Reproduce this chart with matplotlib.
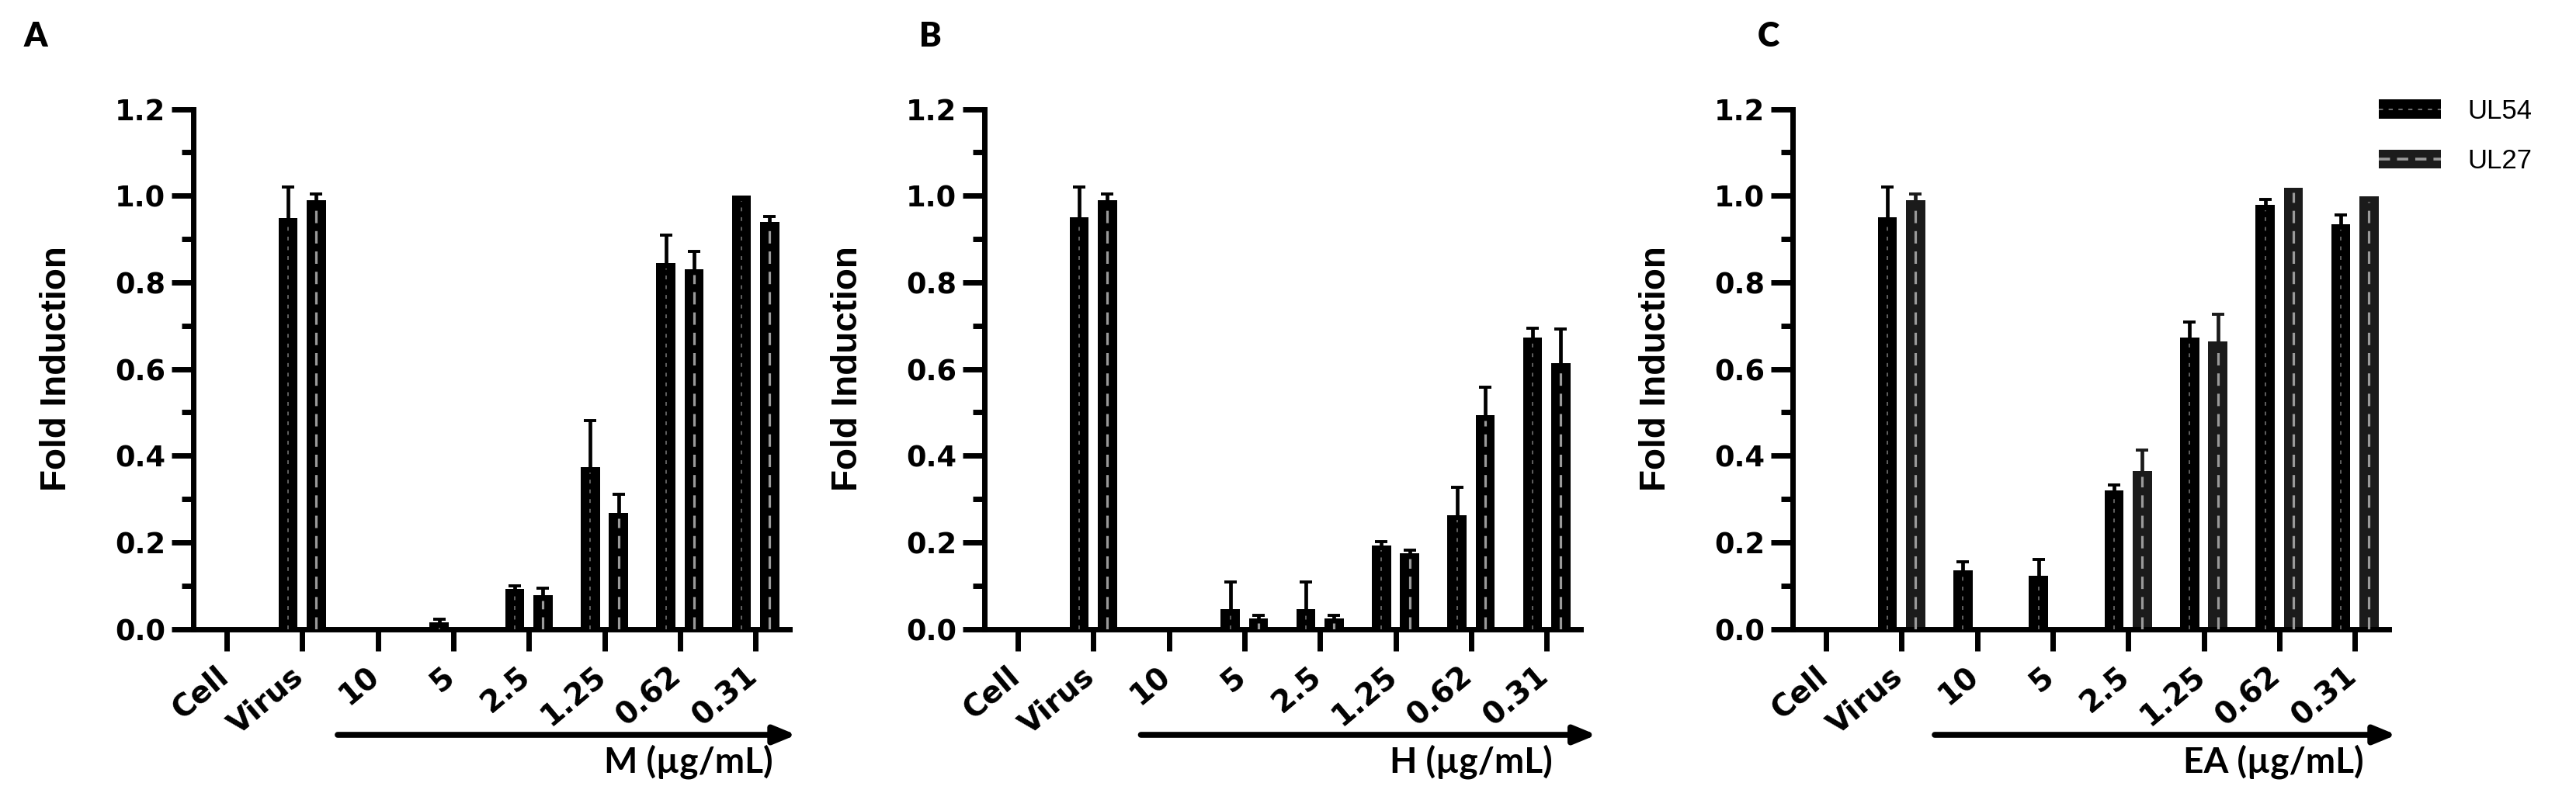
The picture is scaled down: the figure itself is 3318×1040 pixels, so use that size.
import numpy as np
import matplotlib
matplotlib.use("Agg")
import matplotlib.pyplot as plt
from matplotlib.patches import Patch
from matplotlib.lines import Line2D
from matplotlib.ticker import MultipleLocator, FormatStrFormatter
import matplotlib.transforms as mtrans

# ---------------- data ----------------
categories = ["Cell", "Virus", "10", "5", "2.5", "1.25", "0.62", "0.31"]
series_names = ["UL54", "UL27"]
panel_letters = ["A", "B", "C"]
x_titles = ["M (µg/mL)", "H (µg/mL)", "EA (µg/mL)"]

a_ul54 = [0.0, 0.948, 0.0, 0.015, 0.093, 0.373, 0.844, 1.000]
a_ul54_err = [0.0, 0.073, 0.0, 0.007, 0.007, 0.108, 0.065, 0.0]
a_ul27 = [0.0, 0.990, 0.0, 0.0, 0.078, 0.268, 0.830, 0.939]
a_ul27_err = [0.0, 0.014, 0.0, 0.0, 0.016, 0.043, 0.042, 0.013]

b_ul54 = [0.0, 0.950, 0.0, 0.045, 0.045, 0.193, 0.263, 0.672]
b_ul54_err = [0.0, 0.071, 0.0, 0.064, 0.064, 0.008, 0.064, 0.023]
b_ul27 = [0.0, 0.989, 0.0, 0.025, 0.025, 0.174, 0.493, 0.613]
b_ul27_err = [0.0, 0.015, 0.0, 0.006, 0.006, 0.007, 0.065, 0.080]

c_ul54 = [0.0, 0.950, 0.135, 0.123, 0.319, 0.672, 0.979, 0.934]
c_ul54_err = [0.0, 0.071, 0.020, 0.038, 0.014, 0.037, 0.013, 0.021]
c_ul27 = [0.0, 0.989, 0.0, 0.0, 0.364, 0.663, 1.019, 0.999]
c_ul27_err = [0.0, 0.015, 0.0, 0.0, 0.049, 0.063, 0.0, 0.0]

panels = [
    (a_ul54, a_ul54_err, a_ul27, a_ul27_err),
    (b_ul54, b_ul54_err, b_ul27, b_ul27_err),
    (c_ul54, c_ul54_err, c_ul27, c_ul27_err),
]

# ---------------- style / layout ----------------
W, H = 3318, 1040
DPI = 100
ax_left_px = [249, 1268, 2309]
ax_w_px = 768
y0_px, y12_px = 810.5, 140.6
XLIM = (-0.44, 7.45)
ul27_colors = ["#000000", "#000000", "#1b1b1b"]
arrow_span = [(1.47, 7.54), (1.63, 7.66), (1.44, 7.55)]
xtitle_right = [7.235, 7.08, 7.12]
letter_x_px = [31, 1184, 2264]

BAR_W = 0.255
OFF = 0.187
TICK_FONT = dict(family="DejaVu Sans", weight="bold", size=26.5)
XTICK_FONT = dict(family="DejaVu Sans", weight="bold", size=28)

fig = plt.figure(figsize=(W / DPI, H / DPI), dpi=DPI)

for i, (u54, e54, u27, e27) in enumerate(panels):
    left = ax_left_px[i] / W
    bottom = 1 - y0_px / H
    height = (y0_px - y12_px) / H
    ax = fig.add_axes([left, bottom, ax_w_px / W, height])
    x = np.arange(len(categories))
    u54 = np.array(u54); e54 = np.array(e54)
    u27 = np.array(u27); e27 = np.array(e27)
    c27 = ul27_colors[i]

    ax.bar(x - OFF, u54, width=BAR_W, color="black", linewidth=0, zorder=2)
    ax.bar(x + OFF, u27, width=BAR_W, color=c27, linewidth=0, zorder=2)

    m = u54 > 0
    ax.vlines(x[m] - OFF, 0, u54[m] - 0.012, colors="#7a7a7a", lw=1.1,
              linestyles=(0, (3.2, 5.0)), zorder=3)
    m = u27 > 0
    ax.vlines(x[m] + OFF, 0, u27[m] - 0.012, colors="#9a9a9a", lw=2.3,
              linestyles=(0, (5.0, 3.2)), zorder=3)

    for xs, v, e, col in ((x - OFF, u54, e54, "black"), (x + OFF, u27, e27, c27)):
        m = e > 0
        ax.vlines(xs[m], v[m], v[m] + e[m], colors=col, lw=3.4, zorder=4)
        ax.plot(xs[m], v[m] + e[m], ls="none", marker="_", ms=11, mew=2.8,
                color=col, zorder=4)

    ax.set_xlim(*XLIM)
    ax.set_ylim(0, 1.2)
    for s in ("top", "right"):
        ax.spines[s].set_visible(False)
    for s in ("left", "bottom"):
        ax.spines[s].set_linewidth(5)
        ax.spines[s].set_capstyle("projecting")
    ax.yaxis.set_major_locator(MultipleLocator(0.2))
    ax.yaxis.set_minor_locator(MultipleLocator(0.1))
    ax.yaxis.set_major_formatter(FormatStrFormatter("%.1f"))
    ax.tick_params(axis="both", which="major", length=20, width=5)
    ax.tick_params(axis="y", which="minor", length=11, width=5)
    ax.tick_params(axis="y", which="major", pad=6)
    ax.tick_params(axis="x", which="major", pad=10)
    ax.set_xticks(x)
    ax.set_xticklabels(categories, rotation=40, ha="right", fontdict=XTICK_FONT)
    for lab in ax.get_yticklabels():
        lab.set_fontfamily(TICK_FONT["family"])
        lab.set_fontweight("bold")
        lab.set_fontsize(TICK_FONT["size"])
    shift = mtrans.ScaledTranslation(9 / DPI, 0, fig.dpi_scale_trans)
    for lab in ax.get_xticklabels():
        lab.set_transform(lab.get_transform() + shift)

    ax.set_ylabel("Fold Induction", family="Liberation Sans", weight="bold",
                  fontsize=33)
    ax.yaxis.set_label_coords(-(ax_left_px[0] - 95) / ax_w_px, 0.5)

    a0, a1 = arrow_span[i]
    ax.annotate("", xy=(a1, 1 - 947 / H), xytext=(a0, 1 - 947 / H),
                xycoords=("data", "figure fraction"),
                textcoords=("data", "figure fraction"),
                arrowprops=dict(arrowstyle="-|>,head_length=0.34,head_width=0.14",
                                lw=5.5, color="black", shrinkA=0, shrinkB=0,
                                mutation_scale=50),
                annotation_clip=False)
    ax.text(xtitle_right[i], 1 - 995 / H, x_titles[i],
            transform=mtrans.blended_transform_factory(ax.transData, fig.transFigure),
            ha="right", va="baseline", family="Lato", weight="bold", fontsize=33)

    fig.text(letter_x_px[i] / W, 1 - 60 / H, panel_letters[i], ha="left",
             va="baseline", family="Lato", weight="heavy", fontsize=31)

handles = [
    (Patch(facecolor="black", edgecolor="none"),
     Line2D([], [], color="#7a7a7a", lw=1.3, ls=(0, (3, 4)))),
    (Patch(facecolor="#1c1c1c", edgecolor="none"),
     Line2D([], [], color="#9a9a9a", lw=2.6, ls=(0, (4, 2.5)))),
]
fig.legend(handles, series_names, loc="upper left",
           bbox_to_anchor=(3064 / W, 1 - 127 / H), frameon=False,
           prop=dict(family="Liberation Sans", size=25),
           handlelength=2.3, handleheight=0.72, handletextpad=1.0,
           labelspacing=0.9, borderpad=0, borderaxespad=0)

fig.savefig("out.png", dpi=DPI)
